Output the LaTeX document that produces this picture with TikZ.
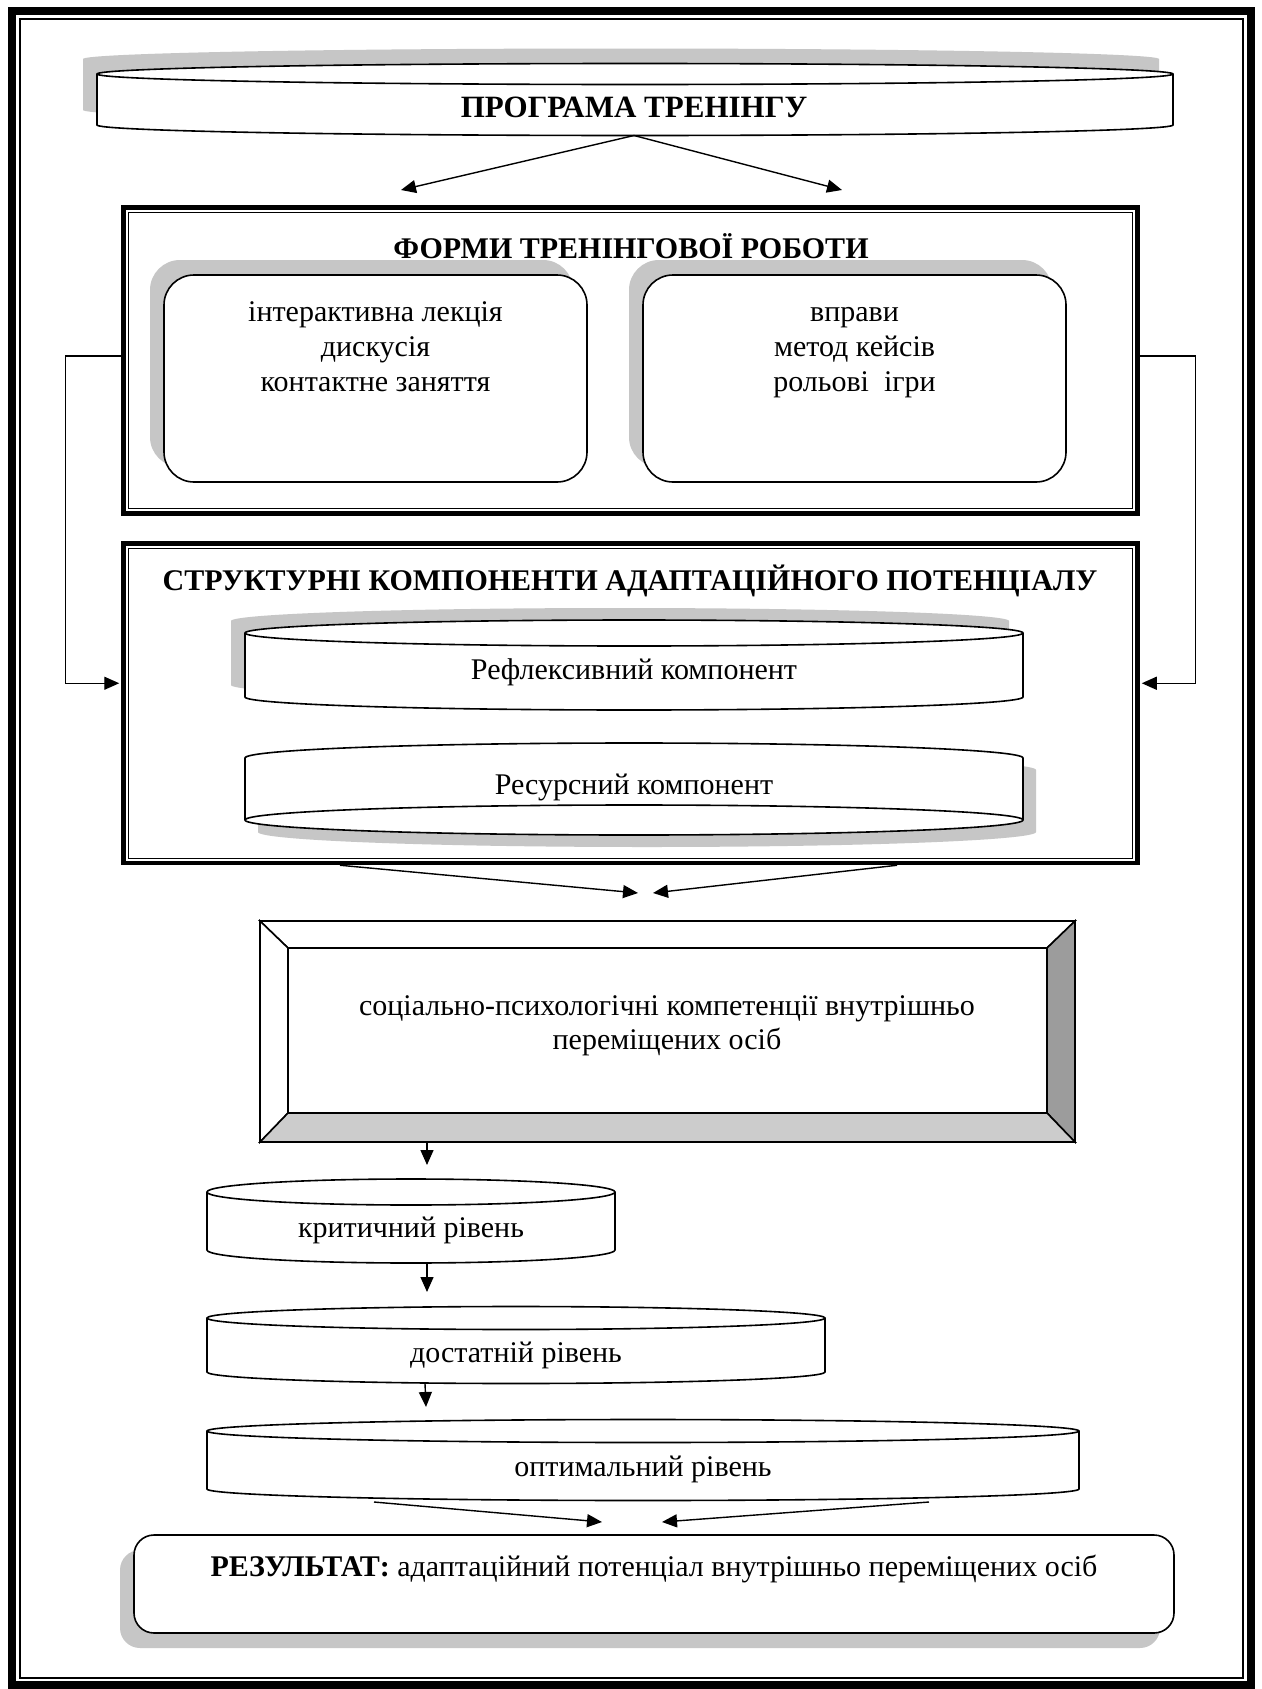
\documentclass[tikz,border=0pt]{standalone}
\usepackage{fontspec}
\setmainfont{Liberation Serif}
\usetikzlibrary{arrows.meta}
\definecolor{shadowgray}{RGB}{198,198,198}
\definecolor{bevdark}{RGB}{156,156,156}
\definecolor{bevlight}{RGB}{204,204,204}
% half ellipse from (#1,#3) to (#2,#3), bulging by #4 (y grows downward)
\newcommand{\halfell}[4]{.. controls (#1,{#3+0.5523*(#4)}) and ({(#1+#2)/2-0.5523*(#2-#1)/2},{#3+(#4)}) .. ({(#1+#2)/2},{#3+(#4)}) .. controls ({(#1+#2)/2+0.5523*(#2-#1)/2},{#3+(#4)}) and (#2,{#3+0.5523*(#4)}) .. (#2,#3)}
% outline of a can: left, right, top corners y, bottom corners y, ellipse half-height
\newcommand{\canpath}[5]{(#1,#3) -- (#1,#4) \halfell{#1}{#2}{#4}{#5} -- (#2,#3) \halfell{#2}{#1}{#3}{-#5} -- cycle}
\begin{document}
\begin{tikzpicture}[x=1pt,y=-1pt,
  conn/.style={line width=1.4pt,-{Triangle[length=15pt,width=13pt]}},
  edgeline/.style={line width=1.6pt},
  txt/.style={font=\fontsize{30}{35}\selectfont,inner sep=0pt},
  ttl/.style={font=\fontsize{30}{35}\selectfont\bfseries,inner sep=0pt},
  thickbox/.style={draw,line width=4.5pt,inner sep=0pt},
  rbox/.style={draw,edgeline,fill=white,rounded corners=30pt,inner sep=0pt,minimum width=423pt,minimum height=207pt},
]
\useasboundingbox (0,0) rectangle (1261,1689);
\fill[white] (0,0) rectangle (1261,1689);
% page frame
\draw[line width=8pt] (11.5,10.5) rectangle (1251,1685);
\draw[line width=2pt] (19.5,18.5) rectangle (1243,1677.5);

% programme scroll
\fill[shadowgray] \canpath{83}{1159}{59}{110}{10.5};
\filldraw[fill=white,edgeline] \canpath{97}{1173}{74}{125}{10.5};
\draw[edgeline] (97,74) \halfell{97}{1173}{74}{10.5};
\node[ttl,font=\fontsize{31}{36}\selectfont\bfseries,anchor=base] (prog) at (634,117) {ПРОГРАМА ТРЕНІНГУ};
\coordinate (progS) at (634,135.5);
\coordinate (formsInL) at (401,190);
\coordinate (formsInR) at (842,190);
\draw[conn] (progS) -- (formsInL);
\draw[conn] (progS) -- (formsInR);

% forms box
\node[thickbox,minimum width=1014pt,minimum height=306pt] (forms) at (630.5,360.5) {};
\draw[line width=1.5pt] (128.5,212.5) rectangle (1132.5,508.5);
\node[ttl,anchor=base] (formsT) at (631,258) {ФОРМИ ТРЕНІНГОВОЇ РОБОТИ};
\fill[shadowgray,rounded corners=30pt] (150,260) rectangle (573,467);
\node[rbox] (lbox) at (375.5,378.5) {};
\node[txt,align=center,anchor=base] (ltext) at (375.5,391) {інтерактивна лекція\\дискусія\\контактне заняття};
\fill[shadowgray,rounded corners=30pt] (629,260) rectangle (1052,467);
\node[rbox] (rbox) at (854.5,378.5) {};
\node[txt,align=center,anchor=base] (rtext) at (854.5,391) {вправи\\метод кейсів\\рольові\ \ ігри};

% structure box
\node[thickbox,minimum width=1014pt,minimum height=319.5pt] (struct) at (630.5,703.25) {};
\draw[line width=1.5pt] (128.5,548.5) rectangle (1132.5,858.5);
\node[ttl,anchor=base] (structT) at (630,590) {СТРУКТУРНІ КОМПОНЕНТИ АДАПТАЦІЙНОГО ПОТЕНЦІАЛУ};

% side connectors
\draw[conn,shorten >=2pt] ([yshift=4.5pt]forms.west) -- ++(-56,0) |- ([yshift=20pt]struct.west);
\draw[conn,shorten >=2pt] ([yshift=4.5pt]forms.east) -- ++(56,0) |- ([yshift=20pt]struct.east);

% reflexive component
\fill[shadowgray] \canpath{231}{1009}{621}{685}{13};
\filldraw[fill=white,edgeline] \canpath{245}{1023}{633}{697}{13};
\draw[edgeline] (245,633) \halfell{245}{1023}{633}{13};
\node[txt,anchor=base] (refl) at (634,679) {Рефлексивний компонент};

% resource component (upside-down can)
\fill[shadowgray] \canpath{258}{1036}{770}{832}{15};
\filldraw[fill=white,edgeline] \canpath{245}{1023}{758}{820}{15};
\draw[edgeline] (245,820) \halfell{245}{1023}{820}{-15};
\node[txt,anchor=base] (res) at (634,794) {Ресурсний компонент};

% arrows to competences
\coordinate (bevInL) at (638,893);
\coordinate (bevInR) at (653,893);
\draw[conn] ([xshift=-290.5pt]struct.south) -- (bevInL);
\draw[conn] ([xshift=266.5pt]struct.south) -- (bevInR);

% bevelled box
\filldraw[fill=white,edgeline] (260,921) -- (1075,921) -- (1047,948) -- (288,948) -- cycle;
\filldraw[fill=white,edgeline] (260,921) -- (288,948) -- (288,1113) -- (260,1142) -- cycle;
\filldraw[fill=bevdark,edgeline] (1075,921) -- (1047,948) -- (1047,1113) -- (1075,1142) -- cycle;
\filldraw[fill=bevlight,edgeline] (260,1142) -- (288,1113) -- (1047,1113) -- (1075,1142) -- cycle;
\node[inner sep=0pt,minimum width=815pt,minimum height=221pt] (bevel) at (667.5,1031.5) {};
\node[txt,font=\fontsize{30}{34}\selectfont,align=center,anchor=base] (bevT) at (667,1049) {соціально-психологічні компетенції внутрішньо\\переміщених осіб};

% levels
\coordinate (critT) at (427,1165);
\draw[conn] ([xshift=-240.5pt]bevel.south) -- (critT);
\filldraw[fill=white,edgeline] \canpath{207}{615}{1192}{1250}{13};
\draw[edgeline] (207,1192) \halfell{207}{615}{1192}{13};
\node[txt,anchor=base] (crit) at (411,1237) {критичний рівень};
\coordinate (critB) at (427,1263);
\coordinate (suffT) at (427,1292);
\draw[conn] (critB) -- (suffT);

\filldraw[fill=white,edgeline] \canpath{207}{825}{1318}{1372}{11.5};
\draw[edgeline] (207,1318) \halfell{207}{825}{1318}{11.5};
\node[txt,anchor=base] (suff) at (516,1362) {достатній рівень};
\coordinate (suffB) at (425,1383.5);
\coordinate (optT) at (426,1407);
\draw[conn] (suffB) -- (optT);

\filldraw[fill=white,edgeline] \canpath{207}{1079}{1431}{1489}{11.5};
\draw[edgeline] (207,1431) \halfell{207}{1079}{1431}{11.5};
\node[txt,anchor=base] (opt) at (643,1476) {оптимальний рівень};

% result
\coordinate (optBL) at (374,1502);
\coordinate (optBR) at (929,1502);
\coordinate (resInL) at (602,1522);
\coordinate (resInR) at (662,1522);
\draw[conn] (optBL) -- (resInL);
\draw[conn] (optBR) -- (resInR);
\fill[shadowgray,rounded corners=20pt] (120,1550) rectangle (1160,1648);
\node[draw,edgeline,fill=white,rounded corners=20pt,inner sep=0pt,minimum width=1040pt,minimum height=98pt] (result) at (654,1584) {};
\node[txt,anchor=base] (resT) at (654,1576) {\textbf{РЕЗУЛЬТАТ:} адаптаційний потенціал внутрішньо переміщених осіб};
\end{tikzpicture}
\end{document}
